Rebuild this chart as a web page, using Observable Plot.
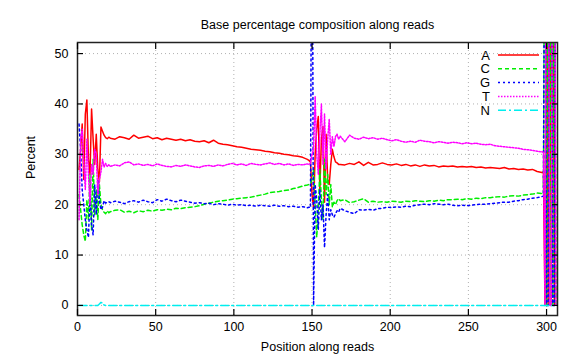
<!DOCTYPE html>
<html><head><meta charset="utf-8">
<script src="https://cdn.jsdelivr.net/npm/d3@7"></script>
<script src="https://cdn.jsdelivr.net/npm/@observablehq/plot@0.6"></script>
<style>html,body{margin:0;padding:0;background:#fff} svg{display:block}</style>
</head><body><div id="chart"></div>
<script>
const title = "Base percentage composition along reads";
const xLabel = "Position along reads";
const yLabel = "Percent";
const bases = ["A", "C", "G", "T", "N"];
const xTicks = [0, 50, 100, 150, 200, 250, 300];
const yTicks = [0, 10, 20, 30, 40, 50];

const positions = [
  1,2,3,4,5,6,7,8,9,10,11,12,13,14,15,16,17,18,19,20,
  21,24,27,30,33,36,39,42,45,48,51,54,57,60,63,66,69,72,75,78,81,84,87,90,93,96,99,102,105,108,111,114,117,120,123,126,129,132,135,138,141,144,147,
  148,149,150,151,152,153,154,155,156,157,158,159,160,161,162,163,164,165,166,167,
  168,171,174,177,180,183,186,189,192,195,198,201,204,207,210,213,216,219,222,225,228,231,234,237,240,243,246,249,252,255,258,261,264,267,270,273,276,279,282,285,288,291,294,297,
  298,299,300,301,302,303,304,305,306
];

const pctA = [
  27,31,36,25,38,40.8,29,26,39,33,28,34,27,24.5,35.4,34.6,33.8,33.3,33.1,33.4,
  33.2,33.0,33.5,33.3,33.0,33.8,33.2,33.4,33.6,33.1,33.3,32.9,33.2,33.0,32.8,33.0,32.7,32.9,32.6,32.5,32.7,32.3,32.8,32.2,32.0,31.9,31.7,31.5,31.4,31.2,31.0,30.9,30.8,30.6,30.5,30.3,30.2,30.0,29.9,29.7,29.6,29.4,29.0,
  28.8,28.5,22,19.5,30,35,37.5,23,33,35.5,20.5,34,25,24,28,31,29.5,28.5,28.3,28.0,
  28.0,27.9,28.2,28.0,28.5,27.8,28.4,27.9,28.0,28.3,28.0,27.9,28.1,27.8,28.0,27.7,27.9,27.6,27.9,27.7,27.8,27.5,27.7,27.6,27.7,27.5,27.6,27.5,27.6,27.4,27.5,27.3,27.4,27.3,27.2,27.4,27.1,27.2,27.0,27.1,26.9,27.0,26.6,26.4,
  26.5,0,100,0,100,0,100,0,100
];
const pctC = [
  22,19,16,14,12.7,21,17,26,15,29,18,23,17,24,20,19,18.5,18.2,18.8,18.4,
  18.6,18.9,19.0,18.5,18.7,18.4,18.8,18.6,18.9,18.7,19.0,18.9,19.1,19.0,19.3,19.2,19.4,19.5,19.6,19.8,20.1,20.3,20.5,20.7,20.8,20.9,21.1,21.2,21.3,21.4,21.5,21.7,21.9,22.1,22.4,22.5,22.6,22.8,22.9,23.2,23.4,23.7,23.9,
  24.0,24.2,25,27,20,13.5,19,27,21,17,29,22,26,20,24,19.5,20.5,20,20.8,21.2,
  20.8,21.0,20.4,20.6,20.9,21.2,20.5,20.7,20.5,20.6,20.5,20.7,20.6,20.5,20.7,20.6,20.8,20.7,20.6,20.8,20.7,20.9,20.8,21.0,21.0,21.1,21.0,21.2,21.1,21.3,21.2,21.4,21.4,21.5,21.6,21.5,21.7,21.8,21.7,21.9,22.0,22.1,22.3,22.2,
  22.0,100,0,100,0,100,0,100,0
];
const pctG = [
  36,31,23,20,17,15,13.5,22,16,14,24,18,25,21,19,19.5,20.8,20.3,20.5,20.6,
  20.4,20.7,20.5,20.2,20.6,20.8,20.5,20.9,20.6,20.4,21.0,20.7,21.1,20.8,20.6,20.9,20.7,20.5,20.3,20.4,20.2,20.3,20.0,20.2,20.1,19.9,20.1,19.9,20.0,19.8,19.9,19.7,19.9,19.8,19.7,19.9,19.7,19.8,19.6,19.7,19.5,19.6,19.4,
  19.5,19.4,100,0,24,21,15,23,17,20,11.5,18,22,17,19,18,17.5,18.2,18.8,18.5,
  19.3,18.8,18.5,18.2,19.0,18.9,19.1,18.9,19.2,19.3,19.5,19.4,19.6,19.5,19.7,19.6,19.9,20.0,20.1,20.0,20.2,20.1,20.0,20.1,19.9,19.8,19.9,19.8,19.9,20.0,20.1,20.1,20.2,20.3,20.4,20.5,20.5,20.7,20.8,21.0,21.1,21.3,21.4,21.6,
  21.7,100,0,0,100,100,0,0,100
];
const pctT = [
  17,33,35,28,23,33,26,20,28,26,31,30,22,25,26.5,29,27.5,28.2,27.6,27.9,
  27.6,27.9,27.7,28.3,28.5,27.9,28.1,27.8,28.0,27.7,28.1,27.8,27.6,27.5,27.8,27.6,27.9,27.7,27.5,27.4,27.7,27.8,27.6,27.9,27.7,28.0,28.2,27.9,28.1,27.8,28.2,28.0,27.9,28.1,28.3,28.0,28.2,27.9,28.1,27.8,28.0,27.9,28.1,
  28.0,28.2,30,31,41.5,30,26,34,40,28,38,27,33,37,30,33.5,31.5,33.5,34.0,33.0,
  33.6,32.5,33.8,33.2,33.0,33.4,33.1,33.3,33.0,33.2,32.9,32.7,32.9,32.6,32.4,32.6,32.4,32.8,32.6,32.5,32.3,32.5,32.4,32.2,32.4,32.3,32.1,32.3,32.1,32.2,32.0,31.9,32.0,31.7,31.6,31.5,31.4,31.3,31.2,31.0,30.9,30.8,30.6,30.5,
  30.4,0,100,100,0,0,100,100,0
];
const posN = [1, 13, 14, 15, 16, 17, 18, 306];
const pctN = [0, 0, 0.3, 0.6, 0.5, 0.1, 0, 0];

const colors = {A: "#ff0000", C: "#00ee00", G: "#0000ff", T: "#ff00ff", N: "#00eeee"};
const dashes = {A: null, C: "4,3", G: "2,3", T: "1.5,1.5", N: "8,3,2,3"};

const seriesData = {
  A: positions.map((p, i) => ({pos: p, pct: pctA[i]})),
  C: positions.map((p, i) => ({pos: p, pct: pctC[i]})),
  G: positions.map((p, i) => ({pos: p, pct: pctG[i]})),
  T: positions.map((p, i) => ({pos: p, pct: pctT[i]})),
  N: posN.map((p, i) => ({pos: p, pct: pctN[i]}))
};

const font = "'Liberation Sans', Arial, Helvetica, sans-serif";
const gridStyle = {stroke: "#b0b0b0", strokeOpacity: 1, strokeDasharray: "1,3"};

const lineMarks = bases.map(b => Plot.line(seriesData[b], {
  x: "pos", y: "pct", stroke: colors[b], strokeWidth: 1.5,
  strokeDasharray: dashes[b], clip: true
}));

const chart = Plot.plot({
  width: 576,
  height: 360,
  marginLeft: 77,
  marginRight: 19,
  marginTop: 42,
  marginBottom: 45,
  style: {fontFamily: font, fontSize: "12px", background: "#fff", color: "#000"},
  x: {domain: [0, 307], axis: null},
  y: {domain: [-2, 52.2], axis: null},
  marks: [
    Plot.gridX({ticks: xTicks.filter(t => t > 0), ...gridStyle}),
    Plot.gridY({ticks: yTicks, ...gridStyle}),
    ...lineMarks,
    Plot.frame({stroke: "#222", strokeWidth: 1.5}),
    Plot.axisX({ticks: xTicks, tickSize: -6, fill: "none", label: null, strokeWidth: 1.2}),
    Plot.axisX({ticks: xTicks, anchor: "top", tickSize: -6, fill: "none", label: null, strokeWidth: 1.2}),
    Plot.axisY({ticks: yTicks, tickSize: -6, fill: "none", label: null, strokeWidth: 1.2}),
    Plot.axisY({ticks: yTicks, anchor: "right", tickSize: -6, fill: "none", label: null, strokeWidth: 1.2}),
    Plot.axisX({ticks: xTicks, tickSize: 0, tickPadding: 7, label: null, fontSize: 12.5}),
    Plot.axisY({ticks: yTicks, tickSize: 0, tickPadding: 9, label: null, fontSize: 12.5}),
    Plot.text([title], {text: d => d, frameAnchor: "top", dy: -22, fontSize: 12.5}),
    Plot.text([xLabel], {text: d => d, frameAnchor: "bottom", dy: 35, fontSize: 12.5}),
    Plot.text([yLabel], {text: d => d, frameAnchor: "left", dx: -47, rotate: -90, fontSize: 12.5})
  ]
});
document.getElementById("chart").appendChild(chart);

// legend (top-right inside the frame, gnuplot style)
const svg = d3.select(chart);
const lg = svg.append("g").attr("font-family", font).attr("font-size", 13);
bases.forEach((b, i) => {
  const y = 55 + i * 13.8;
  lg.append("text").attr("x", 490).attr("y", y).attr("dy", "0.35em")
    .attr("text-anchor", "end").attr("fill", "#000").text(b);
  lg.append("line").attr("x1", 498).attr("x2", 539).attr("y1", y).attr("y2", y)
    .attr("stroke", colors[b]).attr("stroke-width", 1.5)
    .attr("stroke-dasharray", dashes[b]);
});
</script>
</body></html>
